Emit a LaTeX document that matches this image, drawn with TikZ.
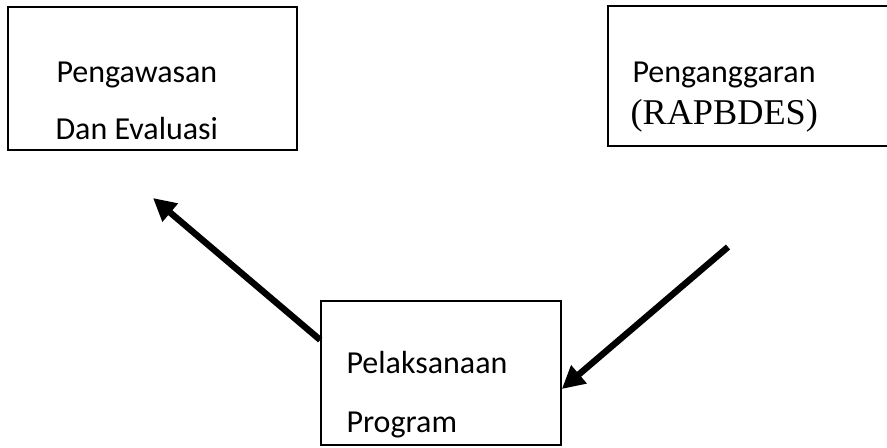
\documentclass[tikz,border=0pt]{standalone}
\usepackage{fontspec}
\setmainfont{Carlito}
\newfontfamily\timesfont{Liberation Serif}
\usetikzlibrary{arrows.meta}

\begin{document}
\begin{tikzpicture}[x=0.375pt, y=-0.375pt,
        kotak/.style={draw, line width=0.6pt, inner sep=0pt},
        teks/.style={anchor=base west, inner sep=0pt, font=\fontsize{12}{14}\selectfont},
        panah/.style={line width=2.4pt, -{Triangle[length=8.5pt, width=8.5pt]}}]
        \useasboundingbox (0,0) rectangle (887,447);
        \node[kotak, minimum width=108.4pt, minimum height=53.6pt] (awas) at (152.5,78.5) {};
        \node[kotak, minimum width=107.6pt, minimum height=52.5pt] (angg) at (751.5,76) {};
        \node[kotak, minimum width=90pt, minimum height=54pt] (laks) at (441,373) {};
        \node[teks] (awas1) at (56,82) {Pengawasan};
        \node[teks] (awas2) at (55,139) {Dan Evaluasi};
        \node[teks] (angg1) at (632,82) {Penganggaran};
        \node[teks, font=\fontsize{13.6}{15}\selectfont\timesfont] (angg2) at (630,124) {(RAPBDES)};
        \node[teks] (laks1) at (346,373) {Pelaksanaan};
        \node[teks] (laks2) at (346,432) {Program};
        \coordinate (ujungkiri) at (153,198);
        \coordinate (pangkalkanan) at (728,247);
        \draw[panah] ([yshift=12.4pt]laks.west) -- (ujungkiri);
        \draw[panah] (pangkalkanan) -- ([yshift=-6pt]laks.east);
    \end{tikzpicture}
\end{document}
